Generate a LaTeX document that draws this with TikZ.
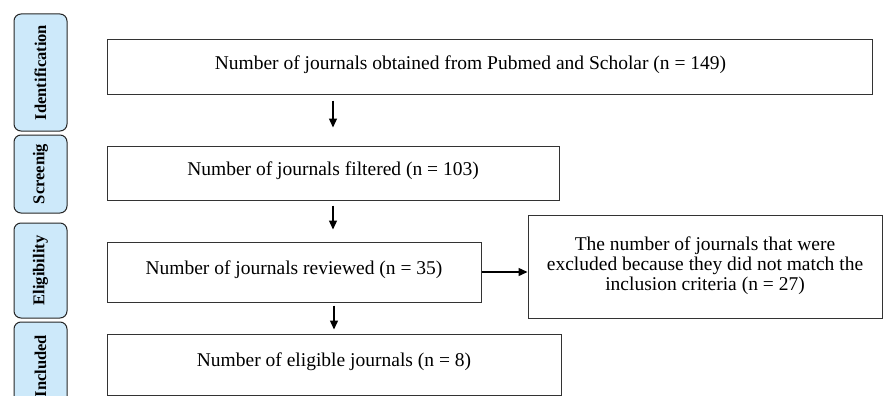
\documentclass[tikz,border=0pt]{standalone}
\usepackage{fontspec}
\setmainfont{Liberation Serif}
\usetikzlibrary{arrows.meta, positioning}
\definecolor{phasefill}{RGB}{205,233,250}

\begin{document}
\begin{tikzpicture}[
  x=1pt, y=-1pt,
  phase/.style={rectangle, draw=black!85, line width=1pt, rounded corners=7pt, fill=phasefill, rotate=90, minimum height=53pt, inner sep=0pt, font=\fontsize{16.5}{18}\selectfont\bfseries},
  record/.style={rectangle, draw=black!80, line width=1pt, inner sep=0pt, align=center, text depth=9pt, font=\fontsize{19.5}{20}\selectfont},
  arrow/.style={-{Triangle[length=9pt, width=8pt]}, line width=1.4pt}
]
  \useasboundingbox (0,0) rectangle (883,396);
  \clip (0,0) rectangle (883,396);

  % phases on the left
  \node[phase, minimum width=117pt] (identification) at (40.5,72.5) {Identification};
  \node[phase, minimum width=78pt] (screening) at (40.5,174) {Screenig};
  \node[phase, minimum width=95pt] (eligibility) at (40.5,270.5) {Eligibility};
  \node[phase, minimum width=88pt] (inclusion) at (40.5,366) {Included};

  % records
  \node[record, minimum width=765pt, minimum height=54pt] (identified) at (489.5,67) {Number of journals obtained from Pubmed and Scholar (n = 149)\hspace*{38pt}};
  \node[record, minimum width=452pt, minimum height=54pt] (filtered) at (333,173) {Number of journals filtered (n = 103)};
  \node[record, minimum width=374pt, minimum height=60pt] (reviewed) at (294,272) {Number of journals reviewed (n = 35)};
  \node[record, minimum width=354pt, minimum height=103pt, text depth=5pt] (excluded) at (705,266.5) {The number of journals that were\\excluded because they did not match the\\inclusion criteria (n = 27)};
  \node[record, minimum width=454pt, minimum height=61pt] (included) at (334,364.5) {Number of eligible journals (n = 8)};

  \draw[arrow, shorten <=6pt, shorten >=18pt] (identified.south -| filtered.north) -- (filtered.north);
  \draw[arrow, shorten <=5pt, shorten >=12pt] (filtered.south) -- (filtered.south |- reviewed.north);
  \draw[arrow] (reviewed.east) -- (reviewed.east -| excluded.west);
  \draw[arrow, shorten <=3pt, shorten >=4pt] (reviewed.south -| included.north) -- (included.north);

\end{tikzpicture}
\end{document}
